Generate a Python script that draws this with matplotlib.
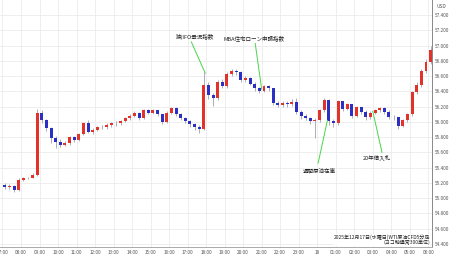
import matplotlib
matplotlib.use("Agg")
import matplotlib.pyplot as plt
import numpy as np

plt.rcParams['font.family'] = ['Noto Sans CJK JP', 'DejaVu Sans']

# 15-minute bars, hours counted from 07:00 on Dec 17
first_open = 55.17
closes = [55.15, 55.16, 55.11, 55.24, 55.26, 55.27, 55.30, 56.12, 56.02, 55.92,
          55.79, 55.74, 55.70, 55.72, 55.80, 55.76, 55.84, 55.98, 55.87, 55.89,
          55.93, 55.93, 55.96, 55.98, 55.98, 56.01, 56.05, 56.08, 56.12, 56.05,
          56.15, 56.12, 56.15, 56.10, 56.00, 56.12, 56.18, 56.10, 56.05, 56.01,
          55.97, 55.93, 55.91, 56.48, 56.35, 56.31, 56.52, 56.47, 56.63, 56.67,
          56.65, 56.55, 56.57, 56.50, 56.44, 56.40, 56.47, 56.44, 56.25, 56.22,
          56.25, 56.23, 56.26, 56.13, 56.08, 56.05, 56.01, 56.02, 56.15, 56.29,
          56.01, 55.98, 56.27, 56.17, 56.23, 56.08, 56.19, 56.13, 56.06, 56.12,
          56.15, 56.18, 56.13, 56.06, 56.06, 55.95, 56.02, 56.10, 56.39, 56.48,
          56.67, 56.78, 56.95]
highs = [55.20, 55.19, 55.17, 55.26, 55.28, 55.28, 55.33, 56.17, 56.15, 56.04,
         55.93, 55.81, 55.77, 55.75, 55.82, 55.82, 55.86, 56.00, 56.02, 55.92,
         55.95, 55.96, 55.98, 56.00, 56.01, 56.03, 56.07, 56.10, 56.14, 56.13,
         56.17, 56.17, 56.17, 56.16, 56.11, 56.14, 56.20, 56.19, 56.12, 56.07,
         56.03, 55.99, 55.96, 56.66, 56.52, 56.38, 56.55, 56.56, 56.65, 56.70,
         56.69, 56.67, 56.60, 56.59, 56.52, 56.46, 56.49, 56.49, 56.45, 56.27,
         56.27, 56.27, 56.30, 56.32, 56.15, 56.10, 56.07, 56.05, 56.17, 56.31,
         56.30, 56.04, 56.29, 56.28, 56.25, 56.24, 56.21, 56.20, 56.15, 56.14,
         56.17, 56.20, 56.19, 56.15, 56.09, 56.07, 56.04, 56.12, 56.41, 56.52,
         56.69, 56.82, 57.00]
lows = [55.12, 55.12, 55.08, 55.10, 55.23, 55.25, 55.26, 55.29, 55.99, 55.88,
        55.72, 55.66, 55.67, 55.68, 55.70, 55.74, 55.75, 55.83, 55.85, 55.84,
        55.88, 55.91, 55.91, 55.94, 55.95, 55.96, 56.00, 56.03, 56.06, 56.03,
        56.04, 56.10, 56.10, 56.08, 55.97, 55.99, 56.10, 56.08, 56.03, 55.99,
        55.94, 55.90, 55.86, 55.89, 56.30, 56.21, 56.29, 56.44, 56.45, 56.60,
        56.62, 56.52, 56.53, 56.48, 56.41, 56.38, 56.39, 56.41, 56.22, 56.19,
        56.20, 56.20, 56.21, 56.11, 56.04, 56.02, 55.97, 55.79, 56.00, 56.13,
        55.96, 55.93, 55.96, 56.14, 56.15, 56.05, 56.06, 56.10, 56.03, 56.04,
        56.10, 56.13, 56.11, 56.04, 56.03, 55.91, 55.93, 56.00, 56.08, 56.36,
        56.46, 56.64, 56.76]

xtick_labels = ["07:00", "08:00", "09:00", "10:00", "11:00", "12:00", "13:00",
                "14:00", "15:00", "16:00", "17:00", "18:00", "19:00", "20:00",
                "21:00", "22:00", "23:00", "18", "01:00", "02:00", "03:00",
                "04:00", "05:00", "06:00"]
yticks = [54.4, 54.6, 54.8, 55.0, 55.2, 55.4, 55.6, 55.8, 56.0, 56.2, 56.4,
          56.6, 56.8, 57.0, 57.2, 57.4]

# (label, text x, text y, line start, line end)  in hours / price
events = [
    ("独)IFO景況指数", 10.4, 57.12, (10.2, 57.05), (10.95, 56.64)),
    ("MBA住宅ローン申請指数", 13.6, 57.09, (13.65, 57.03), (14.0, 56.43)),
    ("週間原油在庫", 17.1, 55.37, (17.05, 55.46), (17.55, 56.02)),
    ("20年債入札", 20.2, 55.53, (20.5, 55.6), (20.0, 56.14)),
]

up_c = '#e2332b'
dn_c = '#2b2fc4'
bw = 0.16

fig = plt.figure(figsize=(4.5, 2.58), dpi=100)
ax = fig.add_axes([0.0, 0.043, 0.96, 0.957])

opens = [first_open] + closes[:-1]
t = np.arange(len(closes)) * 0.25 + 0.125
for x, o, c, h, l in zip(t, opens, closes, highs, lows):
    col = up_c if c >= o else dn_c
    ax.vlines(x, l, h, color='#a0a0b0', lw=0.6, zorder=2)
    ax.bar(x, max(abs(c - o), 0.008), bottom=min(o, c), width=bw,
           color=col, lw=0, zorder=3)

for lab, tx, ty, p0, p1 in events:
    ax.plot([p0[0], p1[0]], [p0[1], p1[1]], color='#49d449', lw=0.7, zorder=4)
    ax.text(tx, ty, lab, fontsize=4, color='#222222', ha='center', va='center', zorder=5)

ax.set_xlim(-0.135, 23.2)
ax.set_ylim(54.36, 57.6)
ax.set_xticks(np.arange(len(xtick_labels)))
ax.set_xticklabels(xtick_labels)
ax.set_yticks(yticks)
ax.set_yticklabels(["%.3f" % v for v in yticks])
ax.yaxis.tick_right()
ax.tick_params(axis='both', labelsize=3.4, colors='#555555', length=0, pad=2)
ax.tick_params(axis='y', pad=2)
ax.grid(True, color='#ebebeb', lw=0.6)
ax.set_axisbelow(True)
for s in ['top', 'left']:
    ax.spines[s].set_visible(False)
ax.spines['right'].set_color('#888888')
ax.spines['bottom'].set_color('#aaaaaa')
ax.spines['right'].set_linewidth(0.7)
ax.spines['bottom'].set_linewidth(0.7)

fig.text(0.98, 0.975, "USD", fontsize=3.5, color='#555555', ha='center', va='center')
ax.text(0.995, 0.006, "2025年12月17日(水曜日)WTI原油CFD5分足\n(ヨコ軸通常300単位)",
        transform=ax.transAxes, fontsize=3.6, color='#222222', ha='right', va='bottom',
        multialignment='right', linespacing=1.05,
        bbox=dict(facecolor='white', edgecolor='none', pad=0.3))

fig.savefig("out.png", dpi=100)
